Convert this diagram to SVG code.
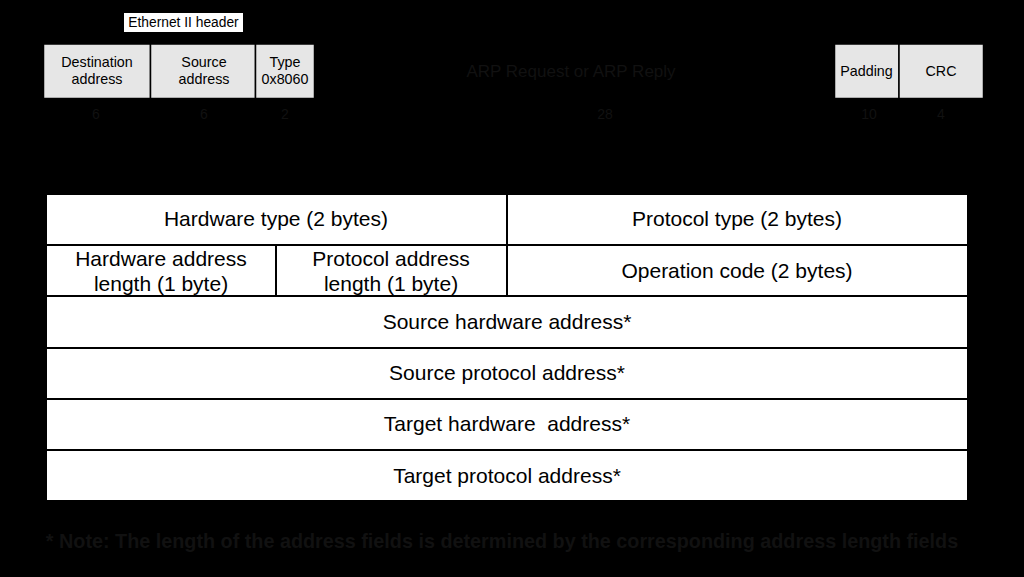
<svg xmlns="http://www.w3.org/2000/svg" width="1024" height="577" viewBox="0 0 1024 577">
<style>
.t{font-family:"Liberation Sans",Arial,sans-serif;text-anchor:middle;dominant-baseline:central}
.hc{fill:#e6e6e6;stroke:#000;stroke-width:1.5}
.tc{fill:#fff;stroke:#000;stroke-width:2}
.s{font-size:14.3px;fill:#000}
.m{font-size:21px;fill:#000}
.d{fill:#111}
</style>
<rect width="1024" height="577" fill="#000"/>
<g id="eth-label">
<rect x="124" y="13" width="119" height="19" fill="#fff"/>
<text class="t" x="183.5" y="22.5" font-size="13.8">Ethernet II header</text>
</g>
<g id="dest">
<rect class="hc" x="43.5" y="44" width="107" height="54.5"/>
<text class="t s" x="97" y="62">Destination</text>
<text class="t s" x="97" y="79">address</text>
</g>
<g id="src">
<rect class="hc" x="150.5" y="44" width="105" height="54.5"/>
<text class="t s" x="204" y="62">Source</text>
<text class="t s" x="204" y="79">address</text>
</g>
<g id="type">
<rect class="hc" x="255.5" y="44" width="59" height="54.5"/>
<text class="t s" x="285" y="62">Type</text>
<text class="t s" x="285" y="79">0x8060</text>
</g>
<g id="arp">
<text class="t d" x="571" y="71" font-size="17">ARP Request or ARP Reply</text>
</g>
<g id="padding">
<rect class="hc" x="834.5" y="44" width="64.5" height="54.5"/>
<text class="t s" x="866.5" y="71">Padding</text>
</g>
<g id="crc">
<rect class="hc" x="899" y="44" width="84.5" height="54.5"/>
<text class="t s" x="941" y="71">CRC</text>
</g>
<g id="sizes" font-size="14">
<text class="t d" x="96" y="114">6</text>
<text class="t d" x="204" y="114">6</text>
<text class="t d" x="285" y="114">2</text>
<text class="t d" x="605" y="114">28</text>
<text class="t d" x="869" y="114">10</text>
<text class="t d" x="941" y="114">4</text>
</g>
<g id="hwtype">
<rect class="tc" x="46" y="194" width="461" height="51"/>
<text class="t m" x="276" y="218">Hardware type (2 bytes)</text>
</g>
<g id="prtype">
<rect class="tc" x="507" y="194" width="461" height="51"/>
<text class="t m" x="737" y="218">Protocol type (2 bytes)</text>
</g>
<g id="hwlen">
<rect class="tc" x="46" y="245" width="230" height="51"/>
<text class="t m" x="161" y="258">Hardware address</text>
<text class="t m" x="161" y="283">length (1 byte)</text>
</g>
<g id="prlen">
<rect class="tc" x="276" y="245" width="231" height="51"/>
<text class="t m" x="391" y="258">Protocol address</text>
<text class="t m" x="391" y="283">length (1 byte)</text>
</g>
<g id="opcode">
<rect class="tc" x="507" y="245" width="461" height="51"/>
<text class="t m" x="737" y="270">Operation code (2 bytes)</text>
</g>
<g id="sha">
<rect class="tc" x="46" y="296" width="922" height="52"/>
<text class="t m" x="507" y="321">Source hardware address*</text>
</g>
<g id="spa">
<rect class="tc" x="46" y="348" width="922" height="51"/>
<text class="t m" x="507" y="372">Source protocol address*</text>
</g>
<g id="tha">
<rect class="tc" x="46" y="399" width="922" height="51"/>
<text class="t m" x="507" y="423" xml:space="preserve">Target hardware  address*</text>
</g>
<g id="tpa">
<rect class="tc" x="46" y="450" width="922" height="51"/>
<text class="t m" x="507" y="475">Target protocol address*</text>
</g>
<g id="note">
<text class="t d" x="502" y="541" font-size="19.8" font-weight="bold">* Note: The length of the address fields is determined by the corresponding address length fields</text>
</g>
</svg>
